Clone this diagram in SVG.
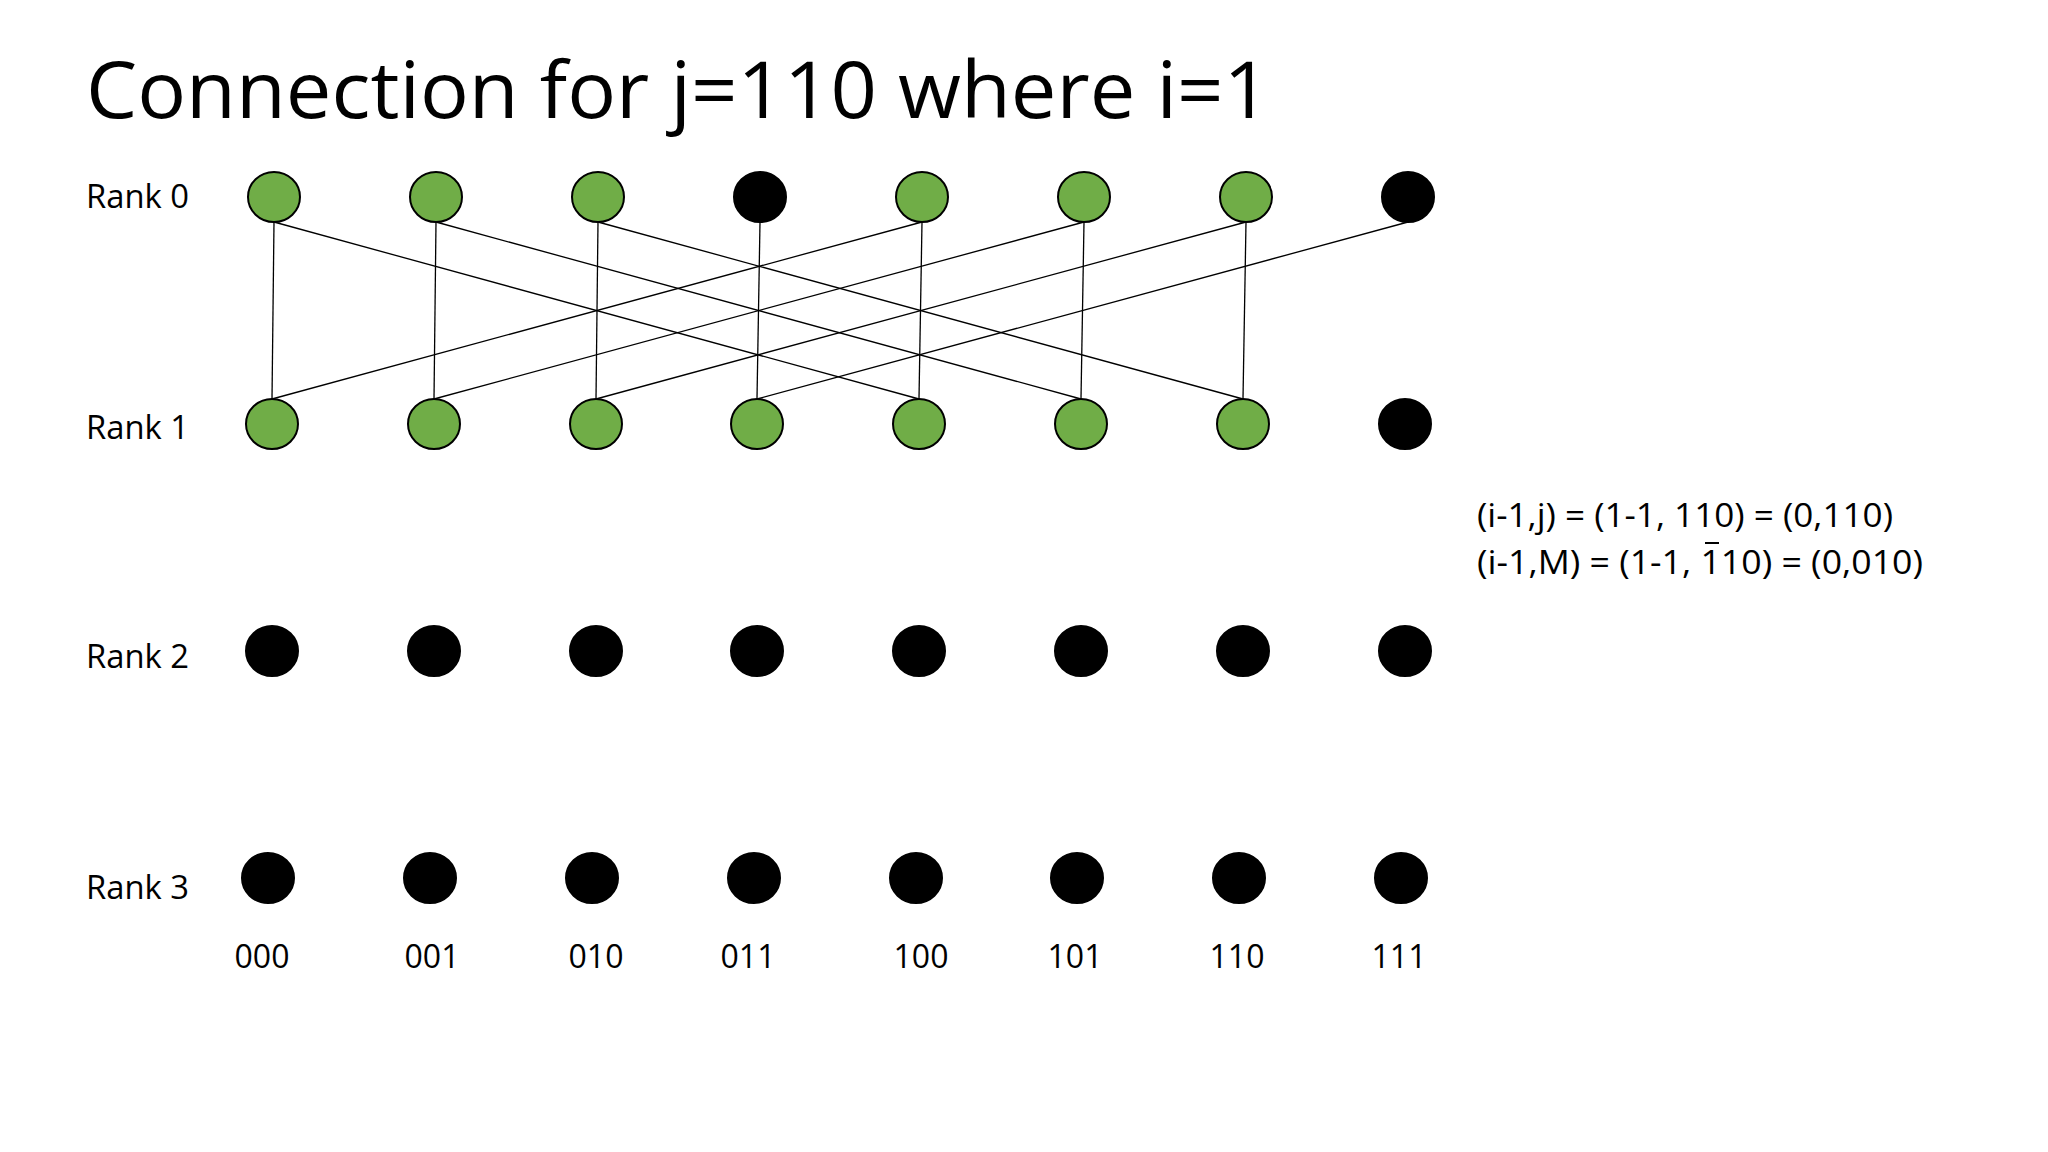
<svg xmlns="http://www.w3.org/2000/svg" width="2048" height="1152" viewBox="0 0 2048 1152">
<style>
text{font-family:"Open Sans","Liberation Sans",sans-serif;fill:#000}
.lbl{font-size:32px}
.g{fill:#70ad47;stroke:#000;stroke-width:2}
.b{fill:#000;stroke:#000;stroke-width:2}
.e{stroke:#000;stroke-width:1.3;fill:none}
</style>
<rect width="2048" height="1152" fill="#fff"/>
<text x="86" y="118" font-size="78" textLength="1184" lengthAdjust="spacingAndGlyphs">Connection for j=110 where i=1</text>
<g id="labels" class="lbl">
<text x="86" y="208" textLength="103" lengthAdjust="spacingAndGlyphs">Rank 0</text>
<text x="86" y="439" textLength="103" lengthAdjust="spacingAndGlyphs">Rank 1</text>
<text x="86" y="668" textLength="103" lengthAdjust="spacingAndGlyphs">Rank 2</text>
<text x="86" y="899" textLength="103" lengthAdjust="spacingAndGlyphs">Rank 3</text>
<g text-anchor="middle">
<text x="262" y="968">000</text><text x="432" y="968">001</text><text x="596" y="968">010</text><text x="748" y="968">011</text>
<text x="921" y="968">100</text><text x="1075" y="968">101</text><text x="1237" y="968">110</text><text x="1399" y="968">111</text>
</g>
</g>
<g id="connectors" class="e">
<line x1="274" y1="222" x2="272" y2="399"/>
<line x1="436" y1="222" x2="434" y2="399"/>
<line x1="598" y1="222" x2="596" y2="399"/>
<line x1="760" y1="222" x2="757" y2="399"/>
<line x1="922" y1="222" x2="919" y2="399"/>
<line x1="1084" y1="222" x2="1081" y2="399"/>
<line x1="1246" y1="222" x2="1243" y2="399"/>
<line x1="274" y1="222" x2="919" y2="399"/>
<line x1="436" y1="222" x2="1081" y2="399"/>
<line x1="598" y1="222" x2="1243" y2="399"/>
<line x1="922" y1="222" x2="272" y2="399"/>
<line x1="1084" y1="222" x2="434" y2="399"/>
<line x1="1246" y1="222" x2="596" y2="399"/>
<line x1="1408" y1="222" x2="757" y2="399"/>
</g>
<g id="rank0">
<ellipse id="r0n0" class="g" cx="274" cy="197" rx="26" ry="25"/>
<ellipse id="r0n1" class="g" cx="436" cy="197" rx="26" ry="25"/>
<ellipse id="r0n2" class="g" cx="598" cy="197" rx="26" ry="25"/>
<ellipse id="r0n3" class="b" cx="760" cy="197" rx="26" ry="25"/>
<ellipse id="r0n4" class="g" cx="922" cy="197" rx="26" ry="25"/>
<ellipse id="r0n5" class="g" cx="1084" cy="197" rx="26" ry="25"/>
<ellipse id="r0n6" class="g" cx="1246" cy="197" rx="26" ry="25"/>
<ellipse id="r0n7" class="b" cx="1408" cy="197" rx="26" ry="25"/>
</g>
<g id="rank1">
<ellipse id="r1n0" class="g" cx="272" cy="424" rx="26" ry="25"/>
<ellipse id="r1n1" class="g" cx="434" cy="424" rx="26" ry="25"/>
<ellipse id="r1n2" class="g" cx="596" cy="424" rx="26" ry="25"/>
<ellipse id="r1n3" class="g" cx="757" cy="424" rx="26" ry="25"/>
<ellipse id="r1n4" class="g" cx="919" cy="424" rx="26" ry="25"/>
<ellipse id="r1n5" class="g" cx="1081" cy="424" rx="26" ry="25"/>
<ellipse id="r1n6" class="g" cx="1243" cy="424" rx="26" ry="25"/>
<ellipse id="r1n7" class="b" cx="1405" cy="424" rx="26" ry="25"/>
</g>
<g id="rank2">
<ellipse class="b" cx="272" cy="651" rx="26" ry="25"/>
<ellipse class="b" cx="434" cy="651" rx="26" ry="25"/>
<ellipse class="b" cx="596" cy="651" rx="26" ry="25"/>
<ellipse class="b" cx="757" cy="651" rx="26" ry="25"/>
<ellipse class="b" cx="919" cy="651" rx="26" ry="25"/>
<ellipse class="b" cx="1081" cy="651" rx="26" ry="25"/>
<ellipse class="b" cx="1243" cy="651" rx="26" ry="25"/>
<ellipse class="b" cx="1405" cy="651" rx="26" ry="25"/>
</g>
<g id="rank3">
<ellipse class="b" cx="268" cy="878" rx="26" ry="25"/>
<ellipse class="b" cx="430" cy="878" rx="26" ry="25"/>
<ellipse class="b" cx="592" cy="878" rx="26" ry="25"/>
<ellipse class="b" cx="754" cy="878" rx="26" ry="25"/>
<ellipse class="b" cx="916" cy="878" rx="26" ry="25"/>
<ellipse class="b" cx="1077" cy="878" rx="26" ry="25"/>
<ellipse class="b" cx="1239" cy="878" rx="26" ry="25"/>
<ellipse class="b" cx="1401" cy="878" rx="26" ry="25"/>
</g>
<g id="equations" font-size="33">
<text x="1477" y="527" font-size="33" textLength="416" lengthAdjust="spacingAndGlyphs">(i-1,j) = (1-1, 110) = (0,110)</text>
<text x="1477" y="574" font-size="33" textLength="446" lengthAdjust="spacingAndGlyphs">(i-1,M) = (1-1, 110) = (0,010)</text>
<line x1="1705" y1="543" x2="1719" y2="543" stroke="#000" stroke-width="2"/>
</g>
</svg>
